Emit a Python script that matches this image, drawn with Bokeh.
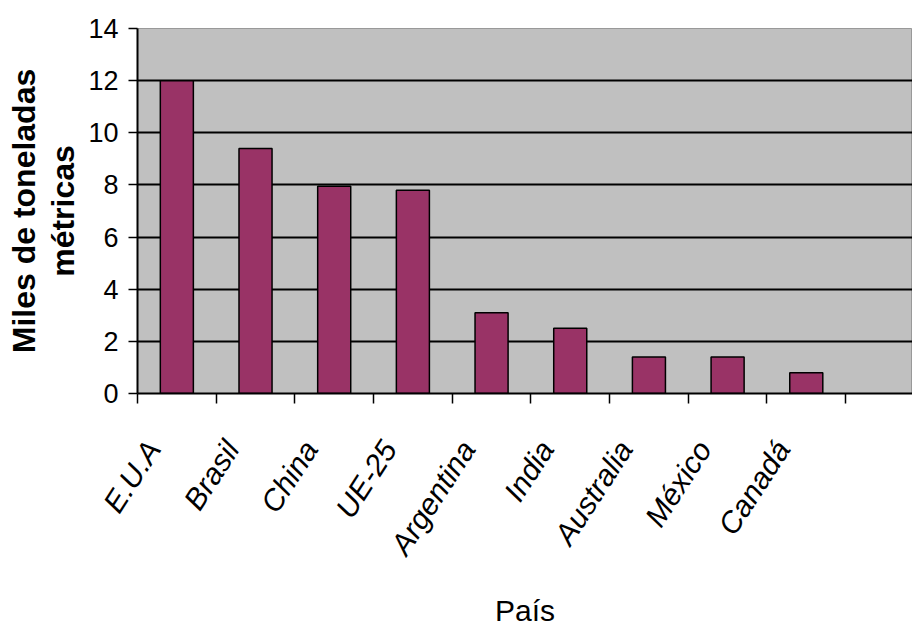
from math import radians
from bokeh.plotting import figure
from bokeh.models import Range1d, FixedTicker, LinearAxis
from bokeh.embed import file_html
from bokeh.resources import INLINE

paises = ["E.U.A", "Brasil", "China", "UE-25", "Argentina", "India", "Australia", "México", "Canadá"]
valores = [12.0, 9.4, 7.95, 7.8, 3.1, 2.5, 1.4, 1.4, 0.8]
y_ticks = [0, 2, 4, 6, 8, 10, 12, 14]
y_title_1 = "Miles de toneladas"
y_title_2 = "métricas"
x_title = "País"

centros = [i + 0.5 for i in range(len(paises))]
limites = list(range(len(paises) + 1))
pos_etiquetas = [c - 0.3 for c in centros]

p = figure(width=912, height=630, output_backend="svg", toolbar_location=None,
           x_range=Range1d(0, 9.85), y_range=Range1d(0, 14),
           min_border_left=137, min_border_right=0, min_border_top=28, min_border_bottom=235,
           background_fill_color="#c0c0c0", border_fill_color="white",
           outline_line_color="#999999", outline_line_width=1)
p.xaxis.visible = False
p.yaxis.visible = False
p.xgrid.visible = False

# y axis with ticks and the inner title line
ya = LinearAxis(ticker=FixedTicker(ticks=y_ticks))
ya.axis_line_color = "black"
ya.axis_line_width = 2
ya.major_tick_out = 9
ya.major_tick_in = 0
ya.major_tick_line_width = 1.5
ya.minor_tick_line_color = None
ya.major_label_text_font = "Liberation Sans"
ya.major_label_text_font_size = "27px"
ya.major_label_text_color = "black"
ya.major_label_standoff = 10
ya.axis_label = y_title_2
ya.axis_label_text_font = "Liberation Sans"
ya.axis_label_text_font_style = "bold"
ya.axis_label_text_font_size = "32px"
ya.axis_label_text_color = "black"
ya.axis_label_standoff = 4
p.add_layout(ya, "left")

# outer axis used only for the first title line
ya2 = LinearAxis(ticker=FixedTicker(ticks=[]))
ya2.axis_line_color = None
ya2.major_tick_line_color = None
ya2.minor_tick_line_color = None
ya2.major_tick_out = 0
ya2.axis_label = y_title_1
ya2.axis_label_text_font = "Liberation Sans"
ya2.axis_label_text_font_style = "bold"
ya2.axis_label_text_font_size = "32px"
ya2.axis_label_text_color = "black"
ya2.axis_label_standoff = 1
p.add_layout(ya2, "left")

# x axis
xa = LinearAxis(ticker=FixedTicker(ticks=pos_etiquetas, minor_ticks=limites))
xa.major_label_overrides = {c: n for c, n in zip(pos_etiquetas, paises)}
xa.axis_line_color = "black"
xa.axis_line_width = 2
xa.major_tick_line_color = None
xa.minor_tick_out = 10
xa.minor_tick_in = 0
xa.minor_tick_line_color = "black"
xa.minor_tick_line_width = 1.5
xa.major_label_orientation = radians(57)
xa.major_label_text_font = "Liberation Sans"
xa.major_label_text_font_style = "italic"
xa.major_label_text_font_size = "30px"
xa.major_label_text_color = "black"
xa.major_label_standoff = 40
xa.axis_label = x_title
xa.axis_label_text_font = "Liberation Sans"
xa.axis_label_text_font_style = "normal"
xa.axis_label_text_font_size = "30px"
xa.axis_label_text_color = "black"
xa.axis_label_standoff = 22
p.add_layout(xa, "below")

p.ygrid.ticker = FixedTicker(ticks=[2, 4, 6, 8, 10, 12])
p.ygrid.grid_line_color = "black"
p.ygrid.grid_line_width = 2

p.vbar(x=centros, top=valores, width=0.42, bottom=0,
       fill_color="#993366", line_color="black", line_width=1.5)

open("out.html", "w").write(file_html(p, INLINE))
